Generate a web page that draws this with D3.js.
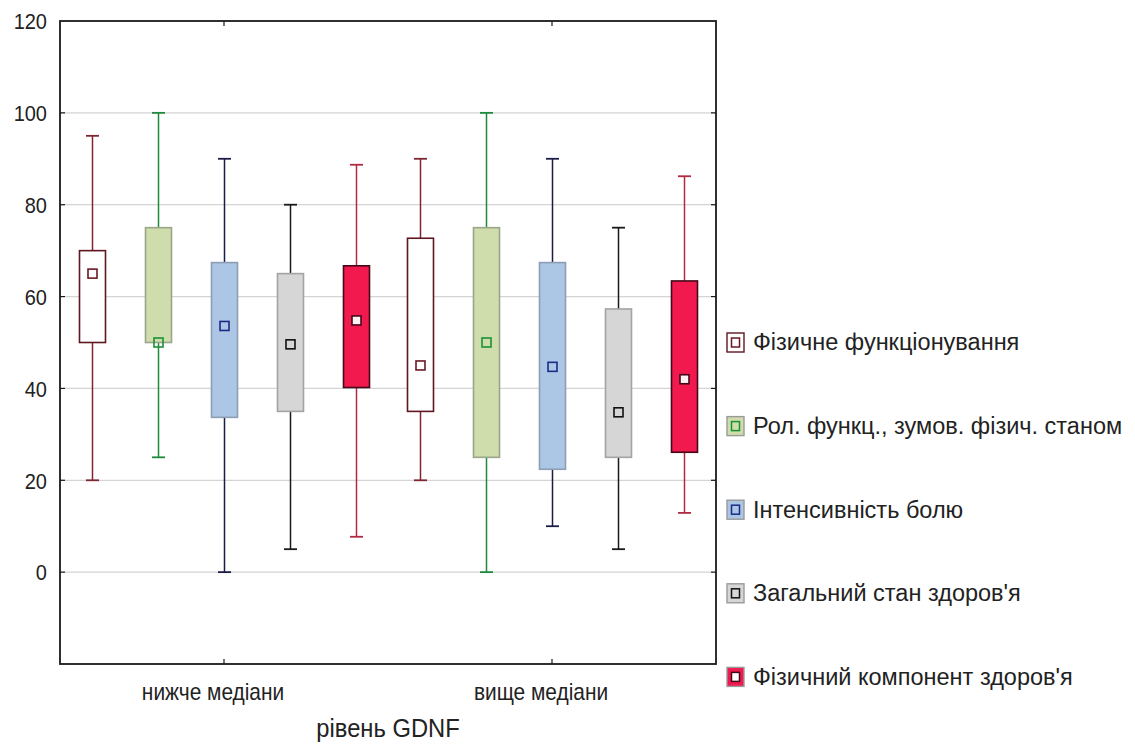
<!DOCTYPE html>
<html>
<head>
<meta charset="utf-8">
<script src="https://cdn.jsdelivr.net/npm/d3@7"></script>
<style>
  html, body { margin: 0; padding: 0; background: #fff; }
  svg text { font-family: "Liberation Sans", Arial, sans-serif; fill: #222; }
</style>
</head>
<body>
<svg id="chart" width="1135" height="745"></svg>
<script>
// GDNF level groups
const groups = ["нижче медіани", "вище медіани"];

// SF-36 scales
const series = [
  "Фізичне функціонування",
  "Рол. функц., зумов. фізич. станом",
  "Інтенсивність болю",
  "Загальний стан здоров'я",
  "Фізичний компонент здоров'я"
];

// per series: [below median group, above median group]
const medians   = [[65, 45], [50, 50], [53.6, 44.7], [49.6, 34.8], [54.8, 42]];
const q1        = [[50, 35], [50, 25], [33.7, 22.4], [35, 25], [40.2, 26.1]];
const q3        = [[70, 72.7], [75, 75], [67.4, 67.4], [65, 57.3], [66.7, 63.4]];
const whiskLow  = [[20, 20], [25, 0], [0, 10], [5, 5], [7.7, 12.9]];
const whiskHigh = [[95, 90], [100, 100], [90, 90], [80, 75], [88.7, 86.2]];

const yTicks = [0, 20, 40, 60, 80, 100, 120];
const gridValues = [0, 20, 40, 60, 80, 100];

const boxFill    = ["#ffffff", "#cfdcab", "#abc7e5", "#d6d6d6", "#f2194e"];
const boxStroke  = ["#5e1620", "#9aa68a", "#8c9db4", "#a3a3a3", "#45081a"];
const whiskColor = ["#7e2632", "#1f8a3e", "#1b1b4a", "#1a1a1a", "#b02a40"];
const medStroke  = ["#6a1a24", "#1a9236", "#1c2a86", "#111111", "#45081a"];
const medFill    = ["#ffffff", "none", "none", "none", "#fff2f4"];

const svg = d3.select("#chart");
const plot = { left: 60, right: 716, top: 21, bottom: 664 };

const y = d3.scaleLinear().domain([-20, 120]).range([plot.bottom, plot.top]);
const x = d3.scaleBand().domain(groups).range([plot.left, plot.right]).padding(0);
const xi = d3.scalePoint().domain(series).range([-132, 132]);

const boxW = 26, capW = 13, medS = 9;

// horizontal grid
svg.append("g").selectAll("line").data(gridValues).join("line")
  .attr("x1", plot.left).attr("x2", plot.right)
  .attr("y1", d => y(d)).attr("y2", d => y(d))
  .attr("stroke", "#d4d4d4").attr("stroke-width", 1.2);

// boxes
series.forEach((s, si) => {
  const g = svg.append("g");
  groups.forEach((grp, gi) => {
    const cx = Math.round(x(grp) + x.bandwidth() / 2 + xi(s)) + 0.5;
    // whisker
    g.append("line")
      .attr("x1", cx).attr("x2", cx)
      .attr("y1", y(whiskHigh[si][gi])).attr("y2", y(whiskLow[si][gi]))
      .attr("stroke", whiskColor[si]).attr("stroke-width", 1.5);
    [whiskHigh[si][gi], whiskLow[si][gi]].forEach(v => {
      g.append("line")
        .attr("x1", cx - capW / 2).attr("x2", cx + capW / 2)
        .attr("y1", y(v)).attr("y2", y(v))
        .attr("stroke", whiskColor[si]).attr("stroke-width", 1.8);
    });
    // box
    g.append("rect")
      .attr("x", cx - boxW / 2).attr("width", boxW)
      .attr("y", y(q3[si][gi])).attr("height", y(q1[si][gi]) - y(q3[si][gi]))
      .attr("fill", boxFill[si]).attr("stroke", boxStroke[si]).attr("stroke-width", 1.6);
    // median marker
    g.append("rect")
      .attr("x", cx - medS / 2).attr("width", medS)
      .attr("y", y(medians[si][gi]) - medS / 2).attr("height", medS)
      .attr("fill", medFill[si]).attr("stroke", medStroke[si]).attr("stroke-width", 1.6);
  });
});

// frame
svg.append("rect")
  .attr("x", plot.left).attr("y", plot.top)
  .attr("width", plot.right - plot.left).attr("height", plot.bottom - plot.top)
  .attr("fill", "none").attr("stroke", "#1a1a1a").attr("stroke-width", 1.8);

// y axis labels and inner ticks
const yAxis = d3.axisLeft(y).tickValues(yTicks).tickSize(0).tickPadding(14);
const ya = svg.append("g").attr("transform", `translate(${plot.left},0)`).call(yAxis);
ya.select(".domain").remove();
ya.selectAll("text").attr("font-size", 21.5).attr("fill", "#222").attr("dy", "0.36em")
  .attr("transform", "scale(0.93,1)");

const yTickIn = svg.append("g");
gridValues.forEach(v => {
  yTickIn.append("line").attr("x1", plot.left).attr("x2", plot.left + 5)
    .attr("y1", y(v)).attr("y2", y(v)).attr("stroke", "#1a1a1a").attr("stroke-width", 1.2);
  yTickIn.append("line").attr("x1", plot.right - 5).attr("x2", plot.right)
    .attr("y1", y(v)).attr("y2", y(v)).attr("stroke", "#1a1a1a").attr("stroke-width", 1.2);
});

// x axis: category ticks on bottom and top edges
const xScaleText = 0.87;
const xAxis = d3.axisBottom(x).tickSize(0).tickPadding(19);
const xa = svg.append("g").attr("transform", `translate(0,${plot.bottom})`).call(xAxis);
xa.select(".domain").remove();
xa.selectAll("text").attr("font-size", 24).attr("fill", "#222")
  .attr("dx", -11 / xScaleText)
  .attr("transform", `scale(${xScaleText},1)`);
groups.forEach(grp => {
  const cx = x(grp) + x.bandwidth() / 2;
  svg.append("line").attr("x1", cx).attr("x2", cx)
    .attr("y1", plot.bottom).attr("y2", plot.bottom - 5).attr("stroke", "#1a1a1a").attr("stroke-width", 1.2);
  svg.append("line").attr("x1", cx).attr("x2", cx)
    .attr("y1", plot.top).attr("y2", plot.top + 5).attr("stroke", "#1a1a1a").attr("stroke-width", 1.2);
});

// x axis title
svg.append("text")
  .attr("transform", `translate(${(plot.left + plot.right) / 2},737) scale(0.95,1)`)
  .attr("text-anchor", "middle").attr("font-size", 25)
  .text("рівень GDNF");

// legend
const legend = svg.append("g");
series.forEach((s, si) => {
  const ly = 342 + si * 83.6;
  legend.append("rect")
    .attr("x", 727).attr("y", ly - 9).attr("width", 17).attr("height", 19)
    .attr("fill", boxFill[si]).attr("stroke", si === 0 ? "#5e1620" : "#9a9a9a").attr("stroke-width", 1.4);
  legend.append("rect")
    .attr("x", 731.5).attr("y", ly - 4).attr("width", 8).attr("height", 9)
    .attr("fill", si === 0 || si === 4 ? "#ffffff" : "none")
    .attr("stroke", medStroke[si]).attr("stroke-width", 1.5);
  legend.append("text")
    .attr("x", 753).attr("y", ly).attr("dy", "0.36em")
    .attr("font-size", 23.5)
    .text(s);
});
</script>
</body>
</html>
